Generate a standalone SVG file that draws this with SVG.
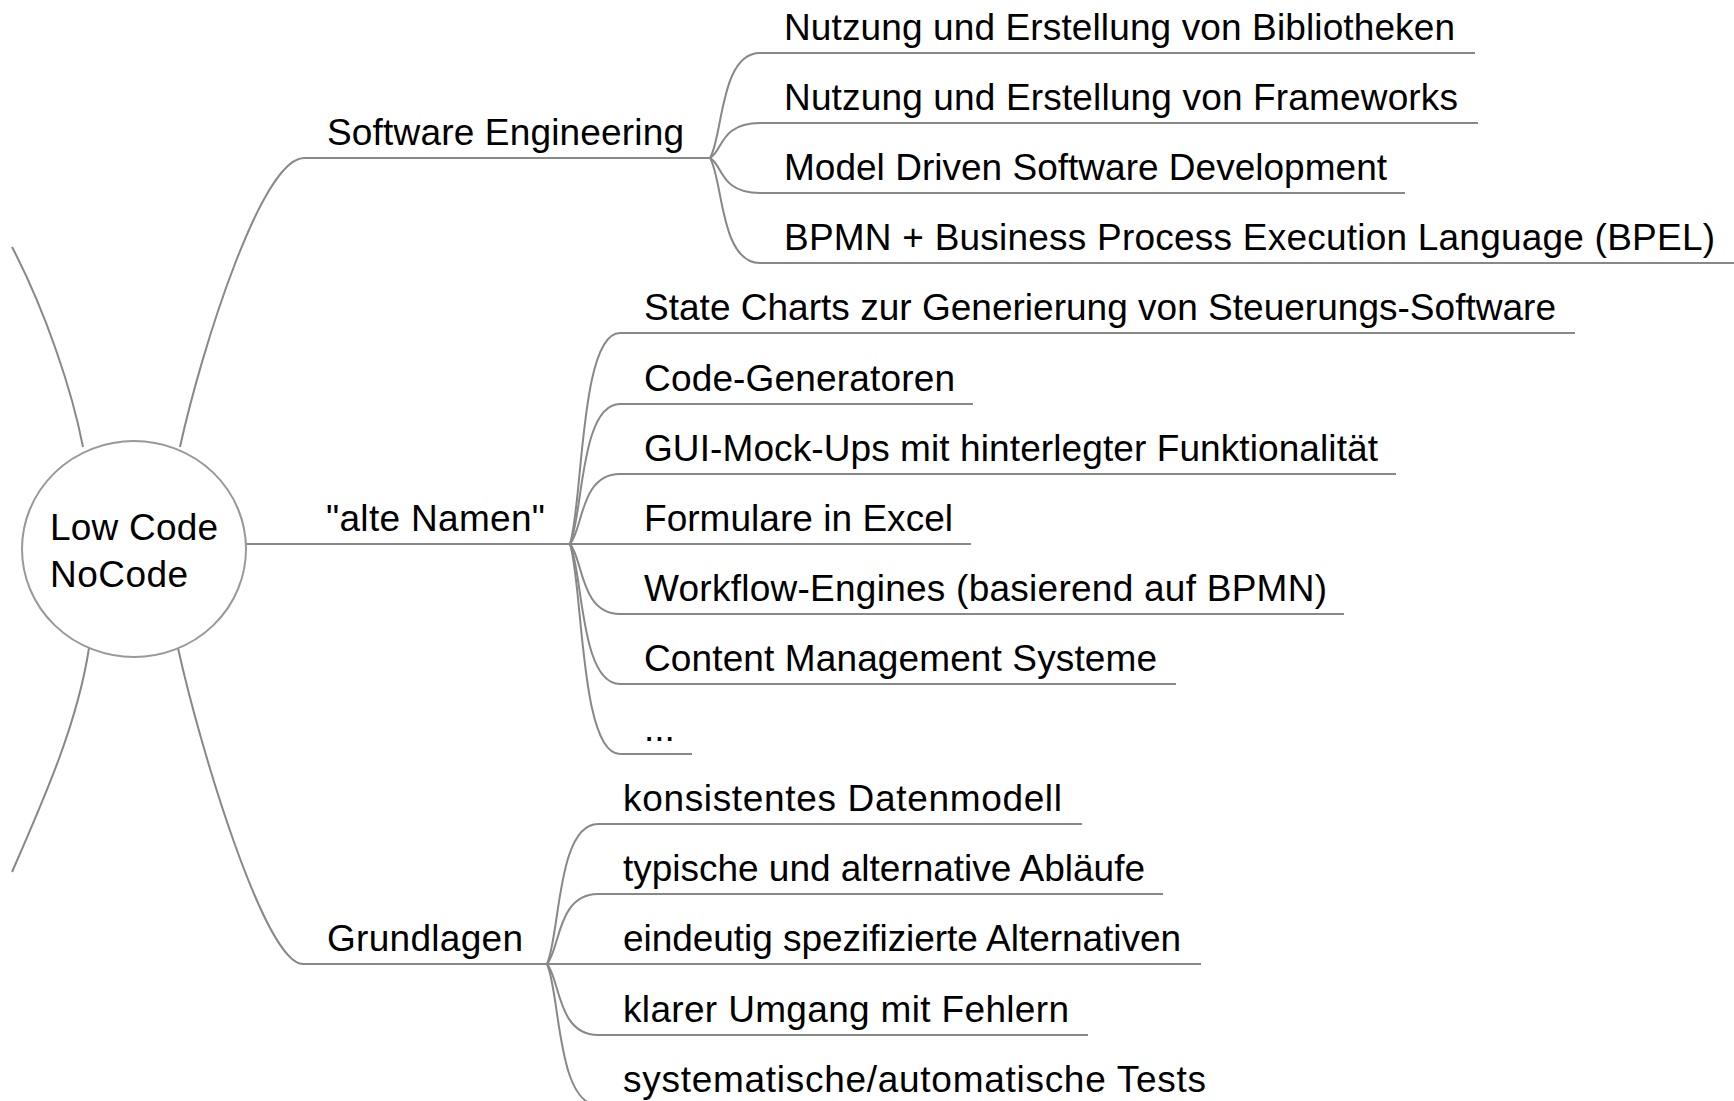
<svg xmlns="http://www.w3.org/2000/svg" width="1734" height="1101" viewBox="0 0 1734 1101">
  <style>
    text { font-family: "Liberation Sans", Arial, sans-serif; font-size: 37px; fill: #000; }
    .edge { fill: none; stroke: #888; stroke-width: 2; }
    .ul { fill: none; stroke: #888; stroke-width: 2.2; }
    .hub { fill: #fff; stroke: #999; stroke-width: 2; }
  </style>
  <rect width="1734" height="1101" fill="#fff"/>

  <!-- connectors -->
  <g id="connectors">
    <!-- branches from the central node -->
    <path class="edge" d="M83,447 C72,390 45,310 12,247"/>
    <path class="edge" d="M89,648 C78,720 48,790 12,872"/>
    <path class="edge" d="M180,447 C202,347 262,158 304,158"/>
    <path class="edge" d="M246,544 H300"/>
    <path class="edge" d="M178,648 C200,748 265,964 303,964"/>

    <!-- Software Engineering fork -->
    <path class="edge" d="M710,158 C723,137 720,53 760,53"/>
    <path class="edge" d="M710,158 C723,151 720,123 760,123"/>
    <path class="edge" d="M710,158 C723,165 720,193 760,193"/>
    <path class="edge" d="M710,158 C723,179 720,263 760,263"/>

    <!-- "alte Namen" fork -->
    <path class="edge" d="M570,544 C583,502 580,333 620,333"/>
    <path class="edge" d="M570,544 C583,516 580,404 620,404"/>
    <path class="edge" d="M570,544 C583,530 580,474 620,474"/>
    <path class="edge" d="M570,544 H620"/>
    <path class="edge" d="M570,544 C583,558 580,614 620,614"/>
    <path class="edge" d="M570,544 C583,572 580,684 620,684"/>
    <path class="edge" d="M570,544 C583,586 580,754 620,754"/>

    <!-- Grundlagen fork -->
    <path class="edge" d="M547,964 C560,936 557,824 598,824"/>
    <path class="edge" d="M547,964 C560,950 557,894 598,894"/>
    <path class="edge" d="M547,964 H598"/>
    <path class="edge" d="M547,964 C560,978 557,1035 598,1035"/>
    <path class="edge" d="M547,964 C560,992 557,1105 598,1105"/>
  </g>

  <!-- central node -->
  <g id="node-root">
    <ellipse class="hub" cx="134" cy="549" rx="112" ry="108"/>
    <text x="50" y="540" textLength="168">Low Code</text>
    <text x="50" y="587" textLength="138">NoCode</text>
  </g>

  <!-- first level -->
  <g id="node-software-engineering">
    <path class="ul" d="M304,158 H710"/>
    <text x="327" y="145" textLength="357">Software Engineering</text>
  </g>
  <g id="node-alte-namen">
    <path class="ul" d="M300,544 H570"/>
    <text x="326" y="531" textLength="219">"alte Namen"</text>
  </g>
  <g id="node-grundlagen">
    <path class="ul" d="M303,964 H547"/>
    <text x="327" y="951" textLength="196">Grundlagen</text>
  </g>

  <!-- Software Engineering children -->
  <g id="node-bibliotheken">
    <path class="ul" d="M760,53 H1475"/>
    <text x="784" y="40" textLength="671">Nutzung und Erstellung von Bibliotheken</text>
  </g>
  <g id="node-frameworks">
    <path class="ul" d="M760,123 H1478"/>
    <text x="784" y="110" textLength="674">Nutzung und Erstellung von Frameworks</text>
  </g>
  <g id="node-mdsd">
    <path class="ul" d="M760,193 H1405"/>
    <text x="784" y="180" textLength="603">Model Driven Software Development</text>
  </g>
  <g id="node-bpel">
    <path class="ul" d="M760,263 H1734"/>
    <text x="784" y="250" textLength="931">BPMN + Business Process Execution Language (BPEL)</text>
  </g>

  <!-- "alte Namen" children -->
  <g id="node-state-charts">
    <path class="ul" d="M620,333 H1575"/>
    <text x="644" y="320" textLength="912">State Charts zur Generierung von Steuerungs-Software</text>
  </g>
  <g id="node-code-generatoren">
    <path class="ul" d="M620,404 H973"/>
    <text x="644" y="391" textLength="311">Code-Generatoren</text>
  </g>
  <g id="node-gui-mockups">
    <path class="ul" d="M620,474 H1396"/>
    <text x="644" y="461" textLength="734">GUI-Mock-Ups mit hinterlegter Funktionalität</text>
  </g>
  <g id="node-excel">
    <path class="ul" d="M620,544 H971"/>
    <text x="644" y="531" textLength="309">Formulare in Excel</text>
  </g>
  <g id="node-workflow">
    <path class="ul" d="M620,614 H1344"/>
    <text x="644" y="601" textLength="683">Workflow-Engines (basierend auf BPMN)</text>
  </g>
  <g id="node-cms">
    <path class="ul" d="M620,684 H1176"/>
    <text x="644" y="671" textLength="513">Content Management Systeme</text>
  </g>
  <g id="node-more">
    <path class="ul" d="M620,754 H692"/>
    <text x="644" y="741">...</text>
  </g>

  <!-- Grundlagen children -->
  <g id="node-datenmodell">
    <path class="ul" d="M598,824 H1082"/>
    <text x="623" y="811" textLength="439">konsistentes Datenmodell</text>
  </g>
  <g id="node-ablaeufe">
    <path class="ul" d="M598,894 H1163"/>
    <text x="623" y="881" textLength="522">typische und alternative Abläufe</text>
  </g>
  <g id="node-alternativen">
    <path class="ul" d="M598,964 H1201"/>
    <text x="623" y="951" textLength="558">eindeutig spezifizierte Alternativen</text>
  </g>
  <g id="node-fehler">
    <path class="ul" d="M598,1035 H1088"/>
    <text x="623" y="1022" textLength="446">klarer Umgang mit Fehlern</text>
  </g>
  <g id="node-tests">
    <text x="623" y="1092" textLength="583">systematische/automatische Tests</text>
  </g>
</svg>
